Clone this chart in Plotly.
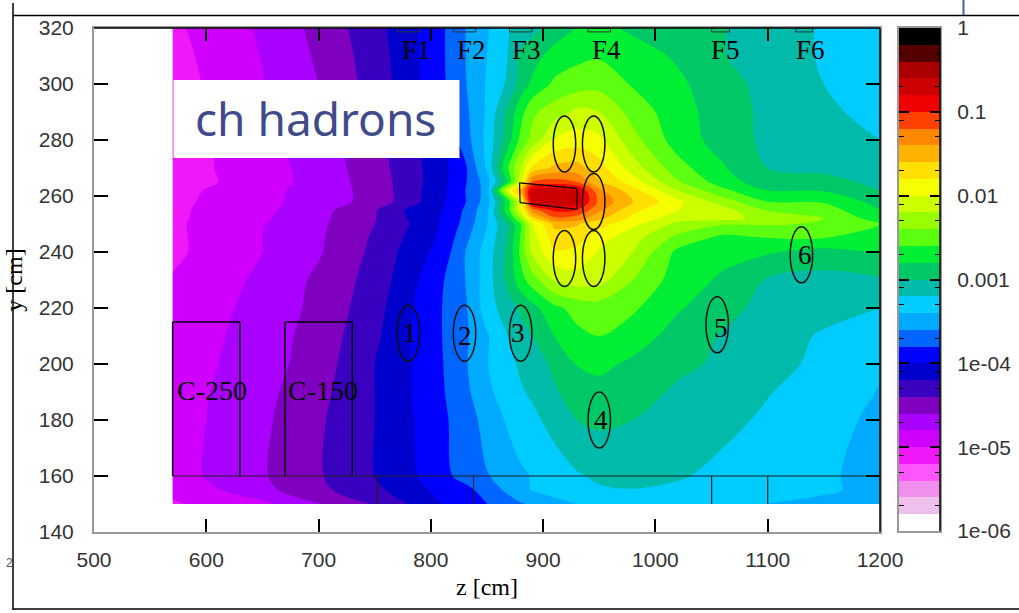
import plotly.graph_objects as go

W, H = 1019, 613

# grid of log10(dose)
z_cm = [570, 600, 650, 700, 750, 780, 810, 830, 850, 870, 880, 890, 910, 930, 950, 980, 1020, 1060, 1100, 1150, 1200]
y_cm = [150, 155, 160, 180, 190, 200, 210, 220, 230, 240, 245, 250, 252, 255, 258, 262, 265, 270, 280, 290, 300, 310, 320]

row_150 = [-5.03, -4.95, -4.85, -4.62, -4.38, -4.19, -4.00, -3.90, -3.80, -3.68, -3.62, -3.58, -3.48, -3.40, -3.33, -3.30, -3.27, -3.30, -3.41, -3.47, -3.55]
row_155 = [-4.93, -4.85, -4.66, -4.45, -4.25, -4.10, -3.93, -3.87, -3.71, -3.55, -3.45, -3.39, -3.31, -3.26, -3.22, -3.21, -3.24, -3.27, -3.30, -3.36, -3.48]
row_160 = [-4.95, -4.78, -4.62, -4.42, -4.20, -4.05, -3.87, -3.72, -3.61, -3.50, -3.43, -3.39, -3.30, -3.22, -3.17, -3.10, -3.18, -3.25, -3.30, -3.37, -3.47]
row_180 = [-4.90, -4.80, -4.64, -4.43, -4.20, -4.03, -3.84, -3.70, -3.53, -3.36, -3.30, -3.25, -3.13, -3.00, -2.96, -3.00, -3.07, -3.15, -3.23, -3.32, -3.45]
row_190 = [-4.90, -4.81, -4.66, -4.46, -4.20, -4.02, -3.82, -3.66, -3.44, -3.30, -3.22, -3.17, -3.02, -2.93, -2.87, -2.92, -3.03, -3.10, -3.19, -3.29, -3.41]
row_200 = [-4.90, -4.83, -4.69, -4.50, -4.20, -4.02, -3.81, -3.63, -3.41, -3.24, -3.17, -3.10, -2.96, -2.79, -2.75, -2.84, -2.96, -3.03, -3.13, -3.25, -3.38]
row_210 = [-4.93, -4.85, -4.70, -4.52, -4.24, -4.02, -3.80, -3.64, -3.42, -3.18, -3.07, -3.00, -2.80, -2.65, -2.60, -2.70, -2.88, -3.02, -3.12, -3.22, -3.33]
row_220 = [-4.97, -4.88, -4.72, -4.55, -4.28, -4.03, -3.80, -3.64, -3.30, -3.07, -2.97, -2.87, -2.65, -2.53, -2.50, -2.57, -2.78, -2.92, -3.08, -3.14, -3.20]
row_230 = [-4.98, -4.90, -4.76, -4.56, -4.32, -4.08, -3.82, -3.61, -3.30, -2.92, -2.68, -2.50, -2.18, -2.10, -2.12, -2.40, -2.70, -2.83, -3.02, -3.07, -3.03]
row_240 = [-5.05, -4.94, -4.80, -4.62, -4.35, -4.13, -3.92, -3.61, -3.31, -2.92, -2.55, -2.17, -1.82, -1.85, -2.02, -2.20, -2.65, -2.74, -2.78, -2.87, -2.78]
row_245 = [-5.05, -4.94, -4.80, -4.63, -4.37, -4.17, -3.96, -3.67, -3.36, -2.94, -2.58, -2.10, -1.70, -1.72, -1.92, -2.12, -2.46, -2.66, -2.60, -2.60, -2.60]
row_250 = [-5.05, -4.93, -4.81, -4.64, -4.40, -4.21, -3.98, -3.74, -3.41, -2.96, -2.60, -2.02, -1.55, -1.58, -1.72, -1.95, -2.25, -2.38, -2.38, -2.42, -2.60]
row_252 = [-5.05, -4.95, -4.83, -4.65, -4.41, -4.19, -3.99, -3.76, -3.43, -2.80, -2.35, -1.70, -1.25, -1.30, -1.55, -1.85, -2.12, -2.12, -2.28, -2.40, -2.70]
row_255 = [-5.05, -4.96, -4.85, -4.67, -4.42, -4.17, -4.00, -3.78, -3.45, -2.60, -2.00, -1.30, -0.95, -1.00, -1.35, -1.75, -2.00, -2.12, -2.42, -2.50, -2.80]
row_258 = [-5.07, -4.97, -4.85, -4.72, -4.52, -4.30, -4.03, -3.82, -3.50, -2.65, -2.00, -0.72, -0.65, -0.70, -1.25, -1.60, -1.95, -2.30, -2.60, -2.62, -2.88]
row_262 = [-5.08, -4.99, -4.86, -4.72, -4.52, -4.30, -4.04, -3.81, -3.52, -1.90, -1.50, -0.75, -0.70, -0.75, -1.35, -1.72, -2.20, -2.55, -2.80, -2.82, -3.00]
row_265 = [-5.12, -5.03, -4.89, -4.73, -4.50, -4.31, -4.06, -3.83, -3.50, -2.70, -2.00, -1.20, -1.10, -1.20, -1.58, -1.90, -2.38, -2.70, -2.92, -2.93, -3.05]
row_270 = [-5.12, -5.02, -4.88, -4.72, -4.48, -4.30, -4.06, -3.85, -3.37, -2.55, -2.20, -1.76, -1.55, -1.52, -1.72, -2.10, -2.52, -2.78, -3.00, -3.05, -3.13]
row_280 = [-5.15, -5.02, -4.86, -4.69, -4.46, -4.27, -4.02, -3.70, -3.35, -2.85, -2.54, -2.34, -1.98, -1.90, -1.95, -2.33, -2.70, -2.88, -3.05, -3.12, -3.20]
row_290 = [-5.14, -5.00, -4.84, -4.65, -4.39, -4.18, -3.93, -3.66, -3.37, -2.92, -2.68, -2.44, -2.30, -2.15, -2.20, -2.48, -2.72, -2.90, -3.05, -3.17, -3.25]
row_300 = [-5.12, -4.98, -4.81, -4.60, -4.32, -4.10, -3.84, -3.62, -3.38, -3.15, -2.90, -2.77, -2.56, -2.50, -2.47, -2.62, -2.76, -2.93, -3.06, -3.20, -3.30]
row_310 = [-5.08, -4.96, -4.79, -4.57, -4.30, -4.08, -3.83, -3.61, -3.40, -3.18, -2.95, -2.87, -2.73, -2.65, -2.62, -2.70, -2.83, -2.99, -3.10, -3.22, -3.32]
row_320 = [-5.04, -4.94, -4.77, -4.54, -4.27, -4.07, -3.83, -3.61, -3.42, -3.20, -3.13, -3.07, -2.90, -2.80, -2.75, -2.84, -2.91, -2.99, -3.10, -3.22, -3.33]
log_dose = [row_150, row_155, row_160, row_180, row_190, row_200, row_210, row_220, row_230, row_240, row_245,
            row_250, row_252, row_255, row_258, row_262, row_265, row_270, row_280, row_290, row_300, row_310, row_320]

# palette, lowest band first; each band is 0.2 decade wide
band_colors = ["#ffffff", "#f0c0ec", "#f090ec", "#ff55ff", "#f018f8", "#d000ff", "#aa00ff", "#8000c0",
               "#3a00c0", "#0000cc", "#0000ff", "#0066ff", "#00aaff", "#00ccff", "#00bbaa", "#00c866",
               "#00ee33", "#5cff10", "#99ff00", "#ccff00", "#f5ff00", "#ffe000", "#ffb300", "#ff8800",
               "#ff4000", "#f00000", "#cc0000", "#aa0000", "#550000", "#000000"]
band_centers = [-5.9, -5.7, -5.5, -5.3, -5.1, -4.9, -4.7, -4.5, -4.3, -4.1, -3.9, -3.7, -3.5, -3.3, -3.1,
                -2.9, -2.7, -2.5, -2.3, -2.1, -1.9, -1.7, -1.5, -1.3, -1.1, -0.9, -0.7, -0.5, -0.3, -0.1]
cbar_tick_vals = [-6, -5, -4, -3, -2, -1, 0]
cbar_tick_text = ["1e-06", "1e-05", "1e-04", "0.001", "0.01", "0.1", "1"]
cbar_minor_vals = [-5.7, -5.3, -5.1, -4.7, -4.3, -4.1, -3.7, -3.3, -3.1, -2.7, -2.3, -2.1, -1.7, -1.3, -1.1, -0.7, -0.3, -0.1]

x_ticks = [500, 600, 700, 800, 900, 1000, 1100, 1200]
y_ticks = [140, 160, 180, 200, 220, 240, 260, 280, 300, 320]

# detectors: centre z, centre y
cells_numbered = [("1", 780, 211, 781, 211), ("2", 830, 211, 830, 210), ("3", 880, 211, 878, 211),
                  ("4", 950, 180, 951.6, 180), ("5", 1055, 214, 1058.8, 213), ("6", 1130, 239, 1133.6, 239)]
cells_plain = [(919, 278.6), (945, 278.6), (945, 258), (919, 237.7), (945, 237.7)]
cell_rz, cell_ry = 10, 10
target_z = [879, 930, 930, 879.5]
target_y = [264.7, 262.7, 255.2, 257.6]
shield_boxes = [("C-250", 570, 630, 605.5), ("C-150", 670, 730, 704)]
shield_top, floor_y, map_bottom = 215, 160, 150
floor_marks = [752, 838, 1050, 1100]
focal_labels = [("F1", 787, 770, 790), ("F2", 836, 820, 840), ("F3", 885, 870, 890),
                ("F4", 956, 940, 960), ("F5", 1062, 1050, 1066), ("F6", 1138, 1125, 1140)]

SERIF = "Liberation Serif, Times New Roman, serif"
SANS = "Liberation Sans, Arial, sans-serif"
GREY = "#333333"

n = len(band_colors)
scale = []
for i, c in enumerate(band_colors):
    scale += [[i / n, c], [(i + 1) / n, c]]


def px(x):
    return x / W


def py(y):
    return 1 - y / H


fig = go.Figure()
fig.add_trace(go.Contour(x=z_cm, y=y_cm, z=log_dose, colorscale=scale, zmin=-6, zmax=0, showscale=False,
                         contours=dict(start=-6, end=0, size=0.2, coloring="fill", showlines=False),
                         line=dict(width=0), xaxis="x", yaxis="y", name="ch hadrons"))
fig.add_trace(go.Heatmap(x=[0], y=band_centers, z=[[v] for v in band_centers], colorscale=scale, zmin=-6, zmax=0,
                         showscale=False, xaxis="x2", yaxis="y2", hoverinfo="skip", name="scale"))

shapes = []


def seg(x0, y0, x1, y1, color="black", width=1.5, xref="x", yref="y"):
    shapes.append(dict(type="line", x0=x0, y0=y0, x1=x1, y1=y1, xref=xref, yref=yref,
                       line=dict(color=color, width=width)))


annotations = []


def txt(x, y, s, size=27, family=SERIF, color="black", xref="x", yref="y"):
    annotations.append(dict(x=x, y=y, text=s, showarrow=False, xref=xref, yref=yref,
                            font=dict(family=family, size=size, color=color)))


for label, cz, cy, tz, ty in cells_numbered:
    shapes.append(dict(type="circle", x0=cz - cell_rz, x1=cz + cell_rz, y0=cy - cell_ry, y1=cy + cell_ry,
                       xref="x", yref="y", line=dict(color="#111111", width=1.5)))
    txt(tz, ty, label)
for cz, cy in cells_plain:
    shapes.append(dict(type="circle", x0=cz - cell_rz, x1=cz + cell_rz, y0=cy - cell_ry, y1=cy + cell_ry,
                       xref="x", yref="y", line=dict(color="#111111", width=1.5)))
for i in range(4):
    j = (i + 1) % 4
    seg(target_z[i], target_y[i], target_z[j], target_y[j], width=1.2)
for label, z0, z1, tz in shield_boxes:
    seg(z0, floor_y, z0, shield_top)
    seg(z0, shield_top, z1, shield_top)
    seg(z1, shield_top, z1, floor_y)
    txt(tz, 190.7, label, size=28)
seg(570, floor_y, 1200, floor_y, color="#222222", width=1.2)
for m in floor_marks:
    seg(m, floor_y, m, map_bottom, color="#222222", width=1.2)
for label, tz, z0, z1 in focal_labels:
    txt(tz, 312, label)
    shapes.append(dict(type="rect", x0=z0, x1=z1, y0=318.6, y1=320, xref="x", yref="y",
                       line=dict(color="#333333", width=1)))

# white label box
shapes.append(dict(type="rect", x0=570.8, x1=825.5, y0=273.6, y1=301.4, xref="x", yref="y",
                   fillcolor="white", line=dict(width=0)))
txt(697, 287.7, "ch hadrons", size=46, family="Comic Sans MS, Noto Sans, sans-serif", color="#3f4a8a")

# black upper and right edges of the plot frame
seg(px(94), py(28), px(880), py(28), xref="paper", yref="paper")
seg(px(880), py(28), px(880), py(532), xref="paper", yref="paper")
seg(px(940), py(28), px(940), py(531), xref="paper", yref="paper")

# slide frame
seg(px(13), py(3), px(13), py(610), width=1.5, xref="paper", yref="paper")
seg(px(13), py(15.5), px(1019), py(15.5), width=1.5, xref="paper", yref="paper")
seg(px(13), py(609), px(1019), py(609), width=1.5, xref="paper", yref="paper")
seg(px(963.5), py(0), px(963.5), py(15), color="#4a5aa0", width=2, xref="paper", yref="paper")
txt(px(3.5), py(572), "2", size=12, family=SANS, color="#555555", xref="paper", yref="paper")

fig.update_layout(
    width=W, height=H, autosize=False, margin=dict(l=0, r=0, t=0, b=0),
    paper_bgcolor="white", plot_bgcolor="white", showlegend=False,
    shapes=shapes, annotations=annotations,
    xaxis=dict(domain=[px(94), px(880)], range=[500, 1200], tickvals=x_ticks, ticks="inside", ticklen=13,
               tickcolor="black", tickwidth=1.5, showgrid=False, zeroline=False, showline=True, linecolor="#999999",
               linewidth=2, mirror="allticks", ticklabelstandoff=8, automargin=False,
               tickfont=dict(family=SANS, size=21, color=GREY),
               title=dict(text="z [cm]", font=dict(family=SERIF, size=24, color="black"), standoff=8)),
    yaxis=dict(domain=[py(532), py(28)], range=[140, 320], tickvals=y_ticks, ticks="inside", ticklen=14,
               tickcolor="black", tickwidth=1.5, showgrid=False, zeroline=False, showline=True, linecolor="#999999",
               linewidth=2, mirror="allticks", ticklabelstandoff=14, automargin=False,
               tickfont=dict(family=SANS, size=21, color=GREY),
               title=dict(text="y [cm]", font=dict(family=SERIF, size=24, color="black"), standoff=9)),
    xaxis2=dict(domain=[px(899), px(940)], anchor="y2", showticklabels=False, ticks="", showgrid=False,
                zeroline=False, showline=True, linecolor="#999999", linewidth=2, mirror=True, fixedrange=True,
                automargin=False),
    yaxis2=dict(domain=[py(531), py(28)], anchor="x2", side="right", range=[-6, 0], tickvals=cbar_tick_vals,
                ticktext=cbar_tick_text, ticks="inside", ticklen=10, tickcolor="black", tickwidth=1.5,
                showgrid=False, zeroline=False, showline=True, linecolor="#999999", linewidth=2, mirror="allticks",
                minor=dict(tickvals=cbar_minor_vals, ticks="inside", ticklen=5, tickcolor="black", tickwidth=1),
                ticklabelstandoff=11, automargin=False, tickfont=dict(family=SANS, size=21, color=GREY)),
)

fig.write_html("out.html", config={"displayModeBar": False},
               post_script="document.body.style.margin='0';document.body.style.overflow='hidden';")
